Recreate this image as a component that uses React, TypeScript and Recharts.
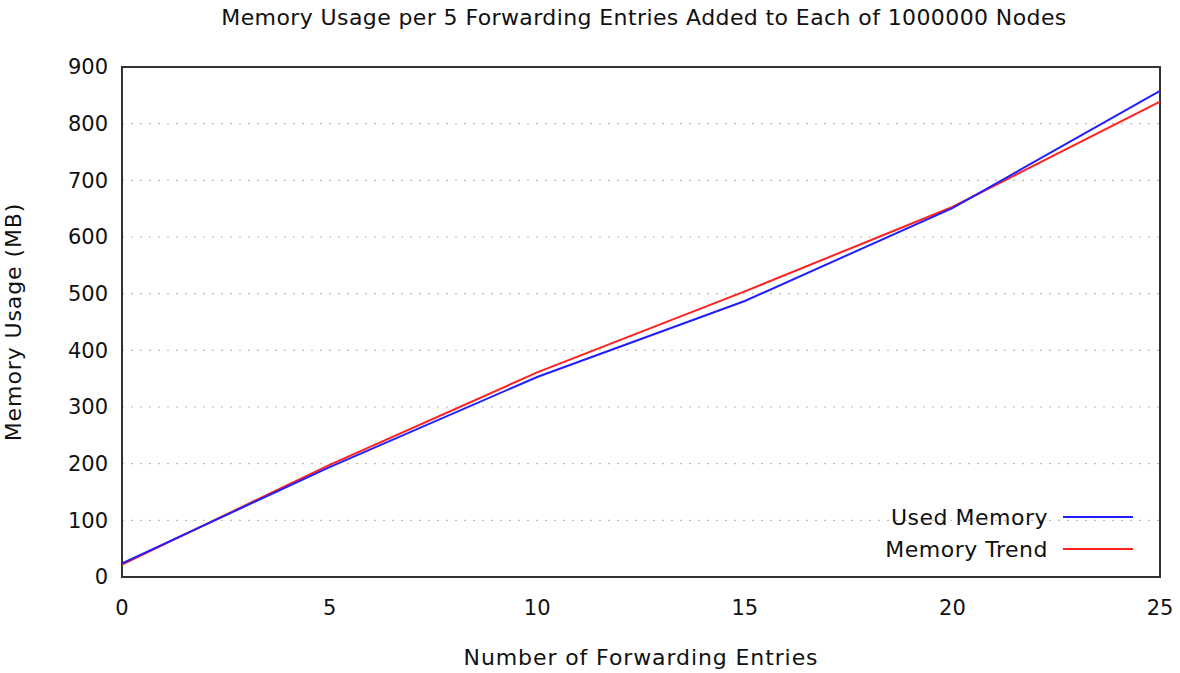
import React from "react";
import {
  LineChart,
  Line,
  XAxis,
  YAxis,
  CartesianGrid,
  ReferenceArea,
} from "recharts";

// Number of forwarding entries per node
const entries = [0, 5, 10, 15, 20, 25];
// Measured memory (MB)
const usedMemory = [24, 194, 353, 487, 651, 858];
// Fitted trend (MB)
const memoryTrend = [22, 198, 361, 504, 653, 839];

const xTicks = [0, 5, 10, 15, 20, 25];
const yTicks = [0, 100, 200, 300, 400, 500, 600, 700, 800, 900];

const chartTitle =
  "Memory Usage per 5 Forwarding Entries Added to Each of 1000000 Nodes";
const xLabel = "Number of Forwarding Entries";
const yLabel = "Memory Usage (MB)";
const seriesNames = ["Used Memory", "Memory Trend"];
const seriesColors = ["#1f1fff", "#ff2020"];

const data = entries.map((e, i) => ({
  entries: e,
  used: usedMemory[i],
  trend: memoryTrend[i],
}));

const FONT = "'DejaVu Sans', Verdana, sans-serif";
const W = 1180;
const H = 673;
const FS = 21;
const LABEL_FS = 22;
const LABEL_SPACING = "0.9px";

const LegendBox = () => (
  <svg
    width={320}
    height={80}
    style={{ position: "absolute", left: 840, top: 495 }}
  >
    {seriesNames.map((name, i) => (
      <g key={name}>
        <text
          x={208}
          y={30 + i * 32}
          textAnchor="end"
          fontSize={LABEL_FS}
          fontFamily={FONT}
          letterSpacing="0.5px"
          fill="#111"
        >
          {name}
        </text>
        <line
          x1={223}
          x2={293}
          y1={22 + i * 32}
          y2={22 + i * 32}
          stroke={seriesColors[i]}
          strokeWidth={2}
        />
      </g>
    ))}
  </svg>
);

export default function App() {
  return (
    <div
      style={{
        position: "absolute",
        left: 0,
        top: 0,
        width: W,
        height: H,
        background: "#fff",
        fontFamily: FONT,
      }}
    >
      <div
        style={{
          position: "absolute",
          top: 5,
          left: 0,
          width: 1288,
          textAlign: "center",
          fontSize: 22,
          letterSpacing: 0.4,
          color: "#111",
          whiteSpace: "nowrap",
        }}
      >
        {chartTitle}
      </div>
      <LineChart
        width={W}
        height={H}
        data={data}
        margin={{ top: 67, right: 20, bottom: 0, left: 0 }}
      >
        <CartesianGrid
          vertical={false}
          stroke="#bdbdbd"
          strokeDasharray="2 7"
          strokeWidth={1.2}
        />
        <XAxis
          dataKey="entries"
          type="number"
          domain={[0, 25]}
          ticks={xTicks}
          height={96}
          axisLine={false}
          tickLine={false}
          tick={{ fontSize: FS, fill: "#111", fontFamily: FONT }}
          tickMargin={17}
          label={{
            value: xLabel,
            position: "insideBottom",
            offset: 8,
            fontSize: LABEL_FS,
            fill: "#111",
            fontFamily: FONT,
            style: { letterSpacing: LABEL_SPACING },
          }}
        />
        <YAxis
          type="number"
          domain={[0, 900]}
          ticks={yTicks}
          width={122}
          axisLine={false}
          tickLine={false}
          tick={{ fontSize: FS, fill: "#111", fontFamily: FONT }}
          tickMargin={8}
          label={{
            value: yLabel,
            angle: -90,
            position: "insideLeft",
            offset: 13,
            style: { textAnchor: "middle", letterSpacing: LABEL_SPACING },
            fontSize: LABEL_FS,
            fill: "#111",
            fontFamily: FONT,
          }}
        />
        <ReferenceArea
          x1={0}
          x2={25}
          y1={0}
          y2={900}
          fill="none"
          stroke="#333"
          strokeWidth={2}
        />
        <Line
          type="linear"
          dataKey="trend"
          name={seriesNames[1]}
          stroke={seriesColors[1]}
          strokeWidth={2}
          dot={false}
          isAnimationActive={false}
        />
        <Line
          type="linear"
          dataKey="used"
          name={seriesNames[0]}
          stroke={seriesColors[0]}
          strokeWidth={2}
          dot={false}
          isAnimationActive={false}
        />
      </LineChart>
      <LegendBox />
    </div>
  );
}
